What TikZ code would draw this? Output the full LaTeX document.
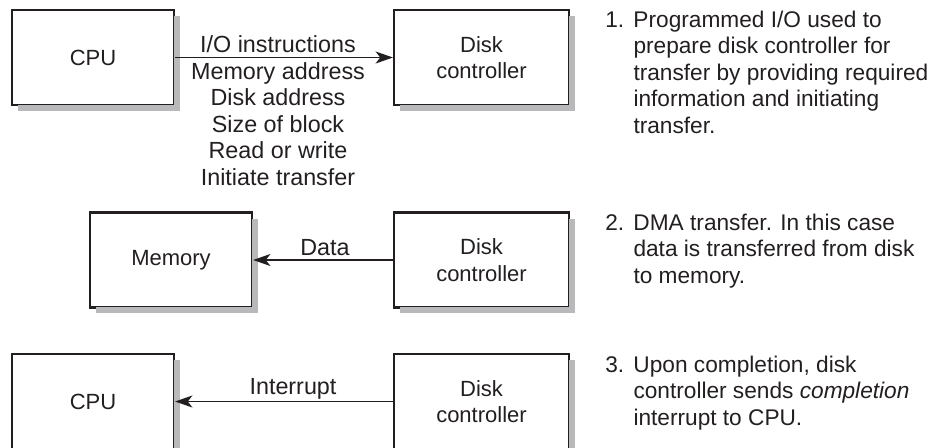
\documentclass[tikz,border=0pt]{standalone}
\usepackage{fontspec}
\setmainfont{Liberation Sans}
\usetikzlibrary{arrows.meta}
\definecolor{ink}{RGB}{35,31,32}
\definecolor{boxshade}{RGB}{185,185,188}
\begin{document}
\begin{tikzpicture}[x=0.75pt,y=-0.75pt,
  box/.style={draw=ink, fill=white, line width=1.6pt, inner sep=0pt,
    minimum height=71.25pt, align=center, text=ink,
    font=\fontsize{16.5pt}{19.9pt}\selectfont},
  smallbox/.style={box, minimum width=121.5pt},
  diskbox/.style={box, minimum width=131.25pt},
  shadowline/.style={draw=boxshade, line width=4.5pt, line cap=butt, line join=miter},
  flow/.style={draw=ink, line width=1.2pt, -{Stealth[length=13pt,width=9pt,inset=3.5pt]}},
  lbl/.style={inner sep=0pt, anchor=base, text=ink, font=\fontsize{17.5pt}{19.9pt}\selectfont},
  note/.style={inner sep=0pt, anchor=base west, text=ink, font=\fontsize{17pt}{19.9pt}\selectfont}
]
\useasboundingbox (0,0) rectangle (949,447);
% row 1
\node[smallbox] (cpu1) at (93,57.5) {CPU};
\node[diskbox] (dc1) at (481.5,57.5) {Disk\\controller};
% row 2
\node[smallbox] (mem) at (171,260) {Memory};
\node[diskbox] (dc2) at (481.5,260) {Disk\\controller};
% row 3
\node[smallbox] (cpu3) at (93,401.5) {CPU};
\node[diskbox] (dc3) at (481.5,401.5) {Disk\\controller};
% shadows: L-shaped grey strips outside the right and bottom edges
\draw[shadowline] (177,16) -- (177,108) -- (18,108);
\draw[shadowline] (572,16) -- (572,108) -- (400,108);
\draw[shadowline] (255,219) -- (255,310) -- (96,310);
\draw[shadowline] (572,219) -- (572,310) -- (400,310);
\draw[shadowline] (177,360) -- (177,452);
\draw[shadowline] (572,360) -- (572,452);
% connectors
\draw[flow] (cpu1.east) -- (dc1.west);
\draw[flow] (dc2.west) -- (mem.east);
\draw[flow] (dc3.west) -- (cpu3.east);
% labels
\node[lbl] (l1) at (278,52.7) {\begin{tabular}[t]{@{}c@{}}I/O instructions\\Memory address\\Disk address\\Size of block\\Read or write\\Initiate transfer\end{tabular}};
\node[lbl] (l2) at (325,255) {Data};
\node[lbl] (l3) at (293,394) {Interrupt};
% notes
\node[note] (n1) at (605,27) {\begin{tabular}[t]{@{}l@{\hspace{7pt}}l@{}}1.&Programmed I/O used to\\&prepare disk controller for\\&transfer by providing required\\&information and initiating\\&transfer.\end{tabular}};
\node[note] (n2) at (605,230) {\begin{tabular}[t]{@{}l@{\hspace{7pt}}l@{}}2.&DMA transfer. In this case\\&data is transferred from disk\\&to memory.\end{tabular}};
\node[note] (n3) at (605,372) {\begin{tabular}[t]{@{}l@{\hspace{7pt}}l@{}}3.&Upon completion, disk\\&controller sends \textit{completion}\\&interrupt to CPU.\end{tabular}};
\end{tikzpicture}
\end{document}
